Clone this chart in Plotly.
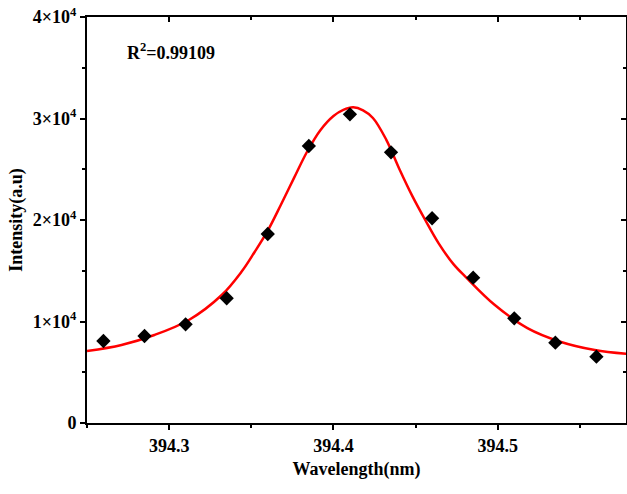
import plotly.graph_objects as go

# Measured data (wavelength in nm, intensity in a.u.)
wavelength = [394.260, 394.285, 394.310, 394.335, 394.360, 394.385, 394.410,
              394.435, 394.460, 394.485, 394.510, 394.535, 394.560]
intensity = [8080, 8570, 9720, 12290, 18620, 27290, 30410,
             26670, 20170, 14320, 10310, 7910, 6530]

# Fitted curve
fit_x = [394.250, 394.271, 394.291, 394.312, 394.332, 394.344, 394.352, 394.360,
         394.368, 394.376, 394.384, 394.392, 394.400, 394.406, 394.412, 394.418,
         394.424, 394.432, 394.440, 394.448, 394.456, 394.464, 394.473, 394.481,
         394.498, 394.518, 394.538, 394.559, 394.579]
fit_y = [7090, 7690, 8670, 10150, 12610, 14900, 16850, 18950,
         21500, 24150, 26750, 28850, 30250, 30850, 31100, 30800,
         30050, 27950, 25050, 22350, 19950, 17700, 15650, 14300,
         11650, 9350, 8010, 7190, 6800]

y_tickvals = [0, 10000, 20000, 30000, 40000]
y_ticktext = ["0", "1×10<sup>4</sup>", "2×10<sup>4</sup>", "3×10<sup>4</sup>", "4×10<sup>4</sup>"]
y_minor = [5000, 15000, 25000, 35000]
r2_text = "R<sup>2</sup>=0.99109"

FONT = "Liberation Serif"

fig = go.Figure()
fig.add_trace(go.Scatter(x=fit_x, y=fit_y, mode="lines",
                         line=dict(color="#ff0000", width=2.5, shape="spline", smoothing=1.0),
                         showlegend=False, hoverinfo="skip"))
fig.add_trace(go.Scatter(x=wavelength, y=intensity, mode="markers",
                         marker=dict(symbol="diamond", size=11, color="black"),
                         showlegend=False))
# invisible trace so the mirrored (top/right) axes are drawn
fig.add_trace(go.Scatter(x=[wavelength[0]], y=[intensity[0]], xaxis="x2", yaxis="y2",
                         mode="markers", marker=dict(opacity=0), showlegend=False,
                         hoverinfo="skip"))

xr = [394.25, 394.578]
yr = [0, 40000]
tickfont = dict(family=FONT, size=18, color="black")
minor_out = dict(ticks="outside", ticklen=3, tickwidth=2, tickcolor="black", showgrid=False)
minor_in = dict(ticks="inside", ticklen=3, tickwidth=2, tickcolor="black", showgrid=False)

fig.update_layout(
    width=627, height=494,
    margin=dict(l=87, r=1, t=17, b=71),
    paper_bgcolor="white", plot_bgcolor="white",
    font=dict(family=FONT, color="black"),
    xaxis=dict(range=xr, tickmode="linear", tick0=394.3, dtick=0.1,
               tickprefix="<b>", ticksuffix="</b>",
               ticks="outside", ticklen=5, tickwidth=2, tickcolor="black",
               showline=True, linecolor="black", linewidth=2,
               showgrid=False, zeroline=False, tickfont=tickfont,
               minor=dict(tickmode="linear", tick0=394.25, dtick=0.05, **minor_out),
               title=dict(text="<b>Wavelength(nm)</b>", font=dict(family=FONT, size=18),
                          standoff=8)),
    yaxis=dict(range=yr, tickmode="array", tickvals=y_tickvals,
               ticktext=["<b>" + t + "</b>" for t in y_ticktext],
               ticks="outside", ticklen=5, tickwidth=2, tickcolor="black",
               showline=True, linecolor="black", linewidth=2,
               showgrid=False, zeroline=False, tickfont=tickfont,
               minor=dict(tickmode="array", tickvals=y_minor, **minor_out),
               title=dict(text="<b>Intensity(a.u)</b>", font=dict(family=FONT, size=18),
                          standoff=6)),
    xaxis2=dict(range=xr, overlaying="x", side="top", tickmode="linear", tick0=394.3,
                dtick=0.1, ticks="inside", ticklen=5, tickwidth=2, tickcolor="black",
                showticklabels=False, showline=True, linecolor="black", linewidth=2,
                showgrid=False, zeroline=False,
                minor=dict(tickmode="linear", tick0=394.25, dtick=0.05, **minor_in)),
    yaxis2=dict(range=yr, overlaying="y", side="right", tickmode="array",
                tickvals=y_tickvals, ticks="inside", ticklen=5, tickwidth=2,
                tickcolor="black", showticklabels=False, showline=True,
                linecolor="black", linewidth=2, showgrid=False, zeroline=False,
                minor=dict(tickmode="array", tickvals=y_minor, **minor_in)),
    annotations=[dict(text="<b>" + r2_text + "</b>", xref="paper", yref="paper",
                      x=0.07, y=0.915, xanchor="left", yanchor="middle",
                      showarrow=False, font=dict(family=FONT, size=18, color="black"))],
)

fig.write_html("out.html")
